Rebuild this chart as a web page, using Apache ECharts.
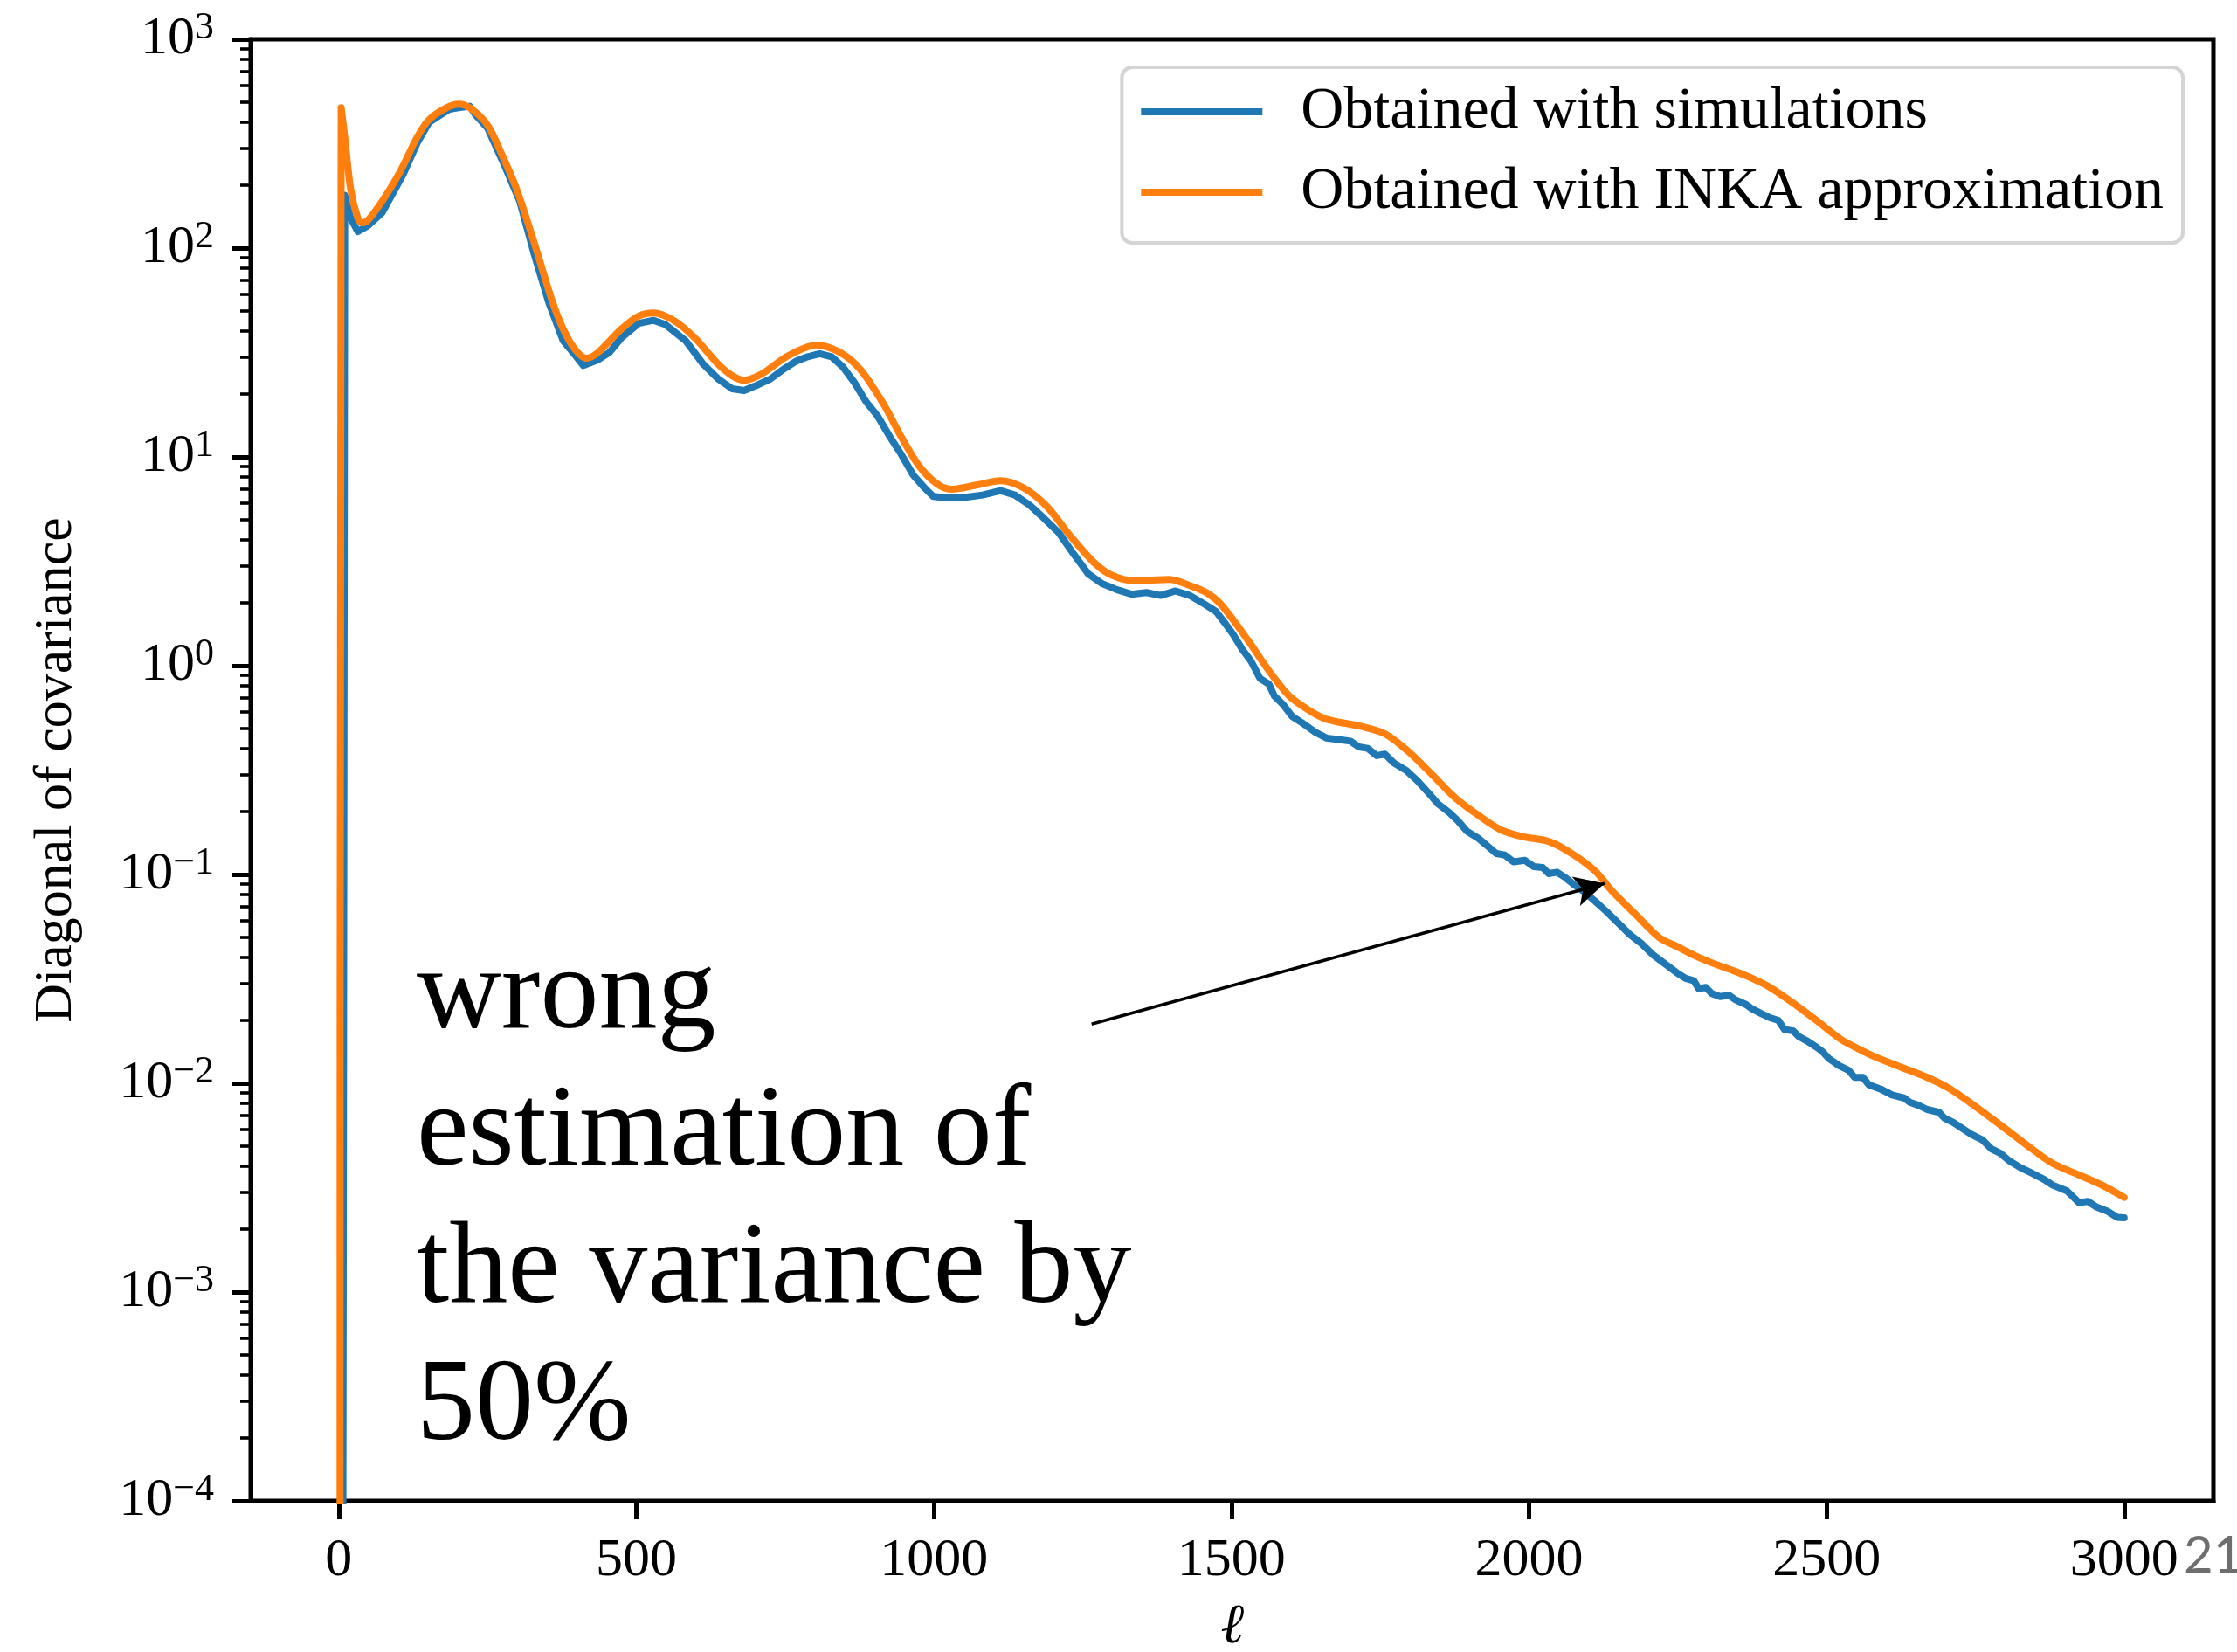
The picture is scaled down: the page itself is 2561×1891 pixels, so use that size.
<!DOCTYPE html>
<html>
<head>
<meta charset="utf-8">
<script src="https://cdn.jsdelivr.net/npm/echarts@6/dist/echarts.min.js"></script>
<style>
  html, body { margin: 0; padding: 0; background: #ffffff; }
  #chart { width: 2561px; height: 1891px; }
</style>
</head>
<body>
<div id="chart"></div>
<script>
// Multipole ell for the simulation-based diagonal
const ellSim = [6, 10, 20, 32, 49, 73, 108, 132, 152, 186, 201, 220, 230, 250, 279, 304, 328, 353, 377, 397,
  411, 436, 455, 475, 504, 529, 549, 583, 612, 637, 661, 681, 705, 725, 749, 769, 788, 808, 828, 847,
  867, 886, 906, 926, 945, 965, 984, 999, 1023, 1053, 1082, 1112, 1136, 1161, 1185, 1210, 1234, 1259, 1283, 1308,
  1332, 1357, 1381, 1406, 1430, 1455, 1474, 1489, 1503, 1518, 1533, 1548, 1563, 1572, 1587, 1602, 1621, 1641, 1660, 1680,
  1700, 1714, 1729, 1744, 1758, 1773, 1793, 1812, 1832, 1847, 1866, 1881, 1896, 1915, 1930, 1945, 1959, 1974, 1993, 2008,
  2023, 2033, 2047, 2062, 2077, 2091, 2111, 2130, 2150, 2170, 2189, 2209, 2248, 2263, 2277, 2285, 2297, 2307, 2321, 2336,
  2346, 2365, 2375, 2390, 2405, 2419, 2429, 2444, 2454, 2468, 2483, 2493, 2503, 2522, 2537, 2547, 2561, 2571, 2591, 2610,
  2630, 2640, 2654, 2669, 2689, 2698, 2713, 2728, 2743, 2762, 2777, 2792, 2806, 2826, 2846, 2865, 2880, 2904, 2924, 2939,
  2954, 2973, 2988, 3000];
// Diagonal of the covariance estimated from simulations
const covSim = [1e-6, 179, 139, 120, 128, 148, 225, 320, 401, 463, 470, 478, 434, 376, 247, 168, 94.4, 54.7, 36, 30.7,
  27.4, 29.2, 31.7, 37.2, 43.6, 45.1, 43, 36, 27.9, 23.7, 21.2, 20.8, 22.2, 23.6, 26.5, 28.8, 30.2, 31.2, 30.2, 27.0,
  22.6, 18.4, 15.6, 12.5, 10.3, 8.2, 7.12, 6.46, 6.36, 6.4, 6.57, 6.89, 6.57, 5.87, 5.08, 4.33, 3.45, 2.76, 2.47, 2.31,
  2.20, 2.24, 2.17, 2.28, 2.17, 1.97, 1.82, 1.60, 1.41, 1.20, 1.05, 0.868, 0.815, 0.716, 0.65, 0.571, 0.527, 0.48, 0.45, 0.443,
  0.435, 0.408, 0.402, 0.371, 0.377, 0.342, 0.316, 0.282, 0.244, 0.218, 0.198, 0.18, 0.161, 0.149, 0.137, 0.126, 0.124, 0.115, 0.117, 0.109,
  0.108, 0.101, 0.1026, 0.0962, 0.0888, 0.0833, 0.0745, 0.0665, 0.0585, 0.0514, 0.0467, 0.0411, 0.0339, 0.0318, 0.0310, 0.0284, 0.0288, 0.0269, 0.0260, 0.0264,
  0.0252, 0.0238, 0.0227, 0.0216, 0.0206, 0.0200, 0.0181, 0.0178, 0.0167, 0.0159, 0.0149, 0.0142, 0.0132, 0.0121, 0.01155, 0.01067, 0.01067, 0.00984, 0.00938, 0.00879,
  0.00851, 0.00811, 0.00785, 0.00749, 0.00726, 0.00681, 0.00649, 0.00608, 0.0057, 0.00535, 0.00485, 0.00462, 0.00427, 0.00394, 0.0037, 0.00347, 0.00325, 0.00305, 0.00268, 0.00272,
  0.00255, 0.00243, 0.00228, 0.00227];

// Multipole ell for the INKA approximation
const ellInka = [2, 4, 10, 20, 32, 39, 49, 73, 103, 132, 152, 181, 201, 220, 250, 274, 299, 328, 358, 377,
  397, 416, 436, 475, 504, 529, 563, 598, 637, 661, 681, 710, 755, 803, 842, 877, 916, 945, 975, 1004,
  1029, 1073, 1112, 1151, 1190, 1229, 1268, 1298, 1337, 1396, 1435, 1460, 1484, 1528, 1562, 1597, 1631, 1660, 1719, 1758,
  1797, 1837, 1876, 1915, 1954, 1993, 2033, 2072, 2111, 2140, 2179, 2219, 2248, 2277, 2312, 2346, 2375, 2405, 2444, 2483,
  2522, 2542, 2576, 2620, 2669, 2708, 2757, 2806, 2845, 2880, 2924, 2963, 3000];
// Diagonal of the covariance from the INKA approximation
const covInka = [1e-6, 470, 341, 191, 139, 132, 136, 168, 232, 341, 413, 470, 489, 470, 388, 281, 191, 107, 56.5, 41,
  32.7, 29.7, 31.7, 41, 47.3, 48.9, 45, 37.2, 27.9, 24.5, 23.3, 24.9, 30.5, 34.3, 31.7, 26.1, 17.8, 12.5, 9.06, 7.47,
  7.0, 7.35, 7.7, 7.1, 5.78, 4.19, 3.14, 2.72, 2.55, 2.59, 2.39, 2.22, 1.94, 1.32, 0.955, 0.716, 0.61, 0.554, 0.511, 0.472,
  0.389, 0.301, 0.233, 0.192, 0.163, 0.151, 0.144, 0.126, 0.104, 0.083, 0.0644, 0.0498, 0.0453, 0.0411, 0.0373, 0.0344, 0.0318, 0.0288, 0.0242, 0.0200,
  0.0164, 0.0152, 0.0136, 0.0121, 0.01067, 0.00938, 0.00749, 0.00589, 0.00485, 0.00413, 0.00364, 0.00325, 0.00284];

const seriesNames = ['Obtained with simulations', 'Obtained with INKA approximation'];
const xTickValues = [0, 500, 1000, 1500, 2000, 2500, 3000];
const yDecades = [-4, -3, -2, -1, 0, 1, 2, 3];
const minorMantissas = [2, 3, 4, 5, 6, 7, 8, 9];
const arrowFrom = [1265, 0.0192];
const arrowTo = [2127, 0.0906];
const noteLines = ['wrong', 'estimation of', 'the variance by', '50%'];
const pageNumber = '21';

const serif = '"Liberation Serif", "DejaVu Serif", serif';
const MINUS = '\u2212';

const yMajor = yDecades.map(e => Math.pow(10, e));
const yMinor = [];
yDecades.slice(0, -1).forEach(e => {
  minorMantissas.forEach(m => yMinor.push(m * Math.pow(10, e)));
});

function zip(xs, ys) { return xs.map((x, i) => [x, ys[i]]); }

function decadeLabel(v) {
  const e = Math.round(Math.log10(v));
  const s = e < 0 ? MINUS + Math.abs(e) : String(e);
  return '{b|10}{s|' + s + '}';
}

const chart = echarts.init(document.getElementById('chart'), null, { renderer: 'canvas' });

const option = {
  animation: false,
  backgroundColor: '#ffffff',
  grid: {
    left: 287, right: 27, top: 45, bottom: 173,
    containLabel: false, outerBoundsMode: 'none',
    show: true, borderColor: '#000', borderWidth: 5, backgroundColor: 'transparent'
  },
  legend: {
    data: seriesNames,
    orient: 'vertical',
    right: 62, top: 77,
    itemWidth: 139, itemHeight: 8, itemGap: 24,
    icon: 'rect',
    selectedMode: false,
    padding: [17, 22, 24, 22],
    borderColor: '#d4d4d4', borderWidth: 4, borderRadius: 12,
    backgroundColor: 'rgba(255,255,255,0.8)',
    textStyle: { fontFamily: serif, fontSize: 68, color: '#000', lineHeight: 64, padding: [0, 0, 0, 39] }
  },
  xAxis: {
    type: 'value', min: -148, max: 3150,
    name: '\u2113', nameLocation: 'middle', nameGap: 113,
    nameTextStyle: { fontFamily: serif, fontSize: 64, color: '#000', fontStyle: 'italic' },
    axisLine: { show: true, onZero: false, lineStyle: { color: '#000', width: 5 } },
    axisTick: { show: true, length: 21, lineStyle: { color: '#000', width: 5 }, customValues: xTickValues },
    axisLabel: {
      customValues: xTickValues, margin: 38, fontFamily: serif, fontSize: 62, color: '#000', lineHeight: 62,
      formatter: v => String(v)
    },
    splitLine: { show: false }
  },
  yAxis: [{
    type: 'log', logBase: 10, min: 1e-4, max: 1e3,
    name: 'Diagonal of covariance', nameLocation: 'middle', nameGap: 191, nameRotate: 90,
    nameTextStyle: { fontFamily: serif, fontSize: 62, color: '#000' },
    axisLine: { show: true, onZero: false, lineStyle: { color: '#000', width: 5 } },
    axisTick: { show: true, length: 21, lineStyle: { color: '#000', width: 5 }, customValues: yMajor },
    axisLabel: {
      customValues: yMajor, margin: 42,
      formatter: decadeLabel,
      rich: {
        b: { fontFamily: serif, fontSize: 62, lineHeight: 62, color: '#000' },
        s: { fontFamily: serif, fontSize: 44, lineHeight: 44, color: '#000', padding: [0, 0, 26, 0] }
      }
    },
    splitLine: { show: false }
  }, {
    // minor decade ticks at 2..9 x 10^k
    type: 'log', logBase: 10, min: 1e-4, max: 1e3, position: 'left', offset: 0,
    axisLine: { show: false, onZero: false },
    axisTick: { show: true, length: 12, lineStyle: { color: '#000', width: 3.6 }, customValues: yMinor },
    axisLabel: { show: false },
    splitLine: { show: false }
  }],
  series: [{
    name: seriesNames[0], type: 'line', yAxisIndex: 0,
    data: zip(ellSim, covSim),
    showSymbol: false, symbol: 'none',
    lineStyle: { color: '#1f77b4', width: 8, join: 'round', cap: 'round' },
    itemStyle: { color: '#1f77b4' },
    emphasis: { disabled: true }, z: 2
  }, {
    name: seriesNames[1], type: 'line', yAxisIndex: 0,
    data: zip(ellInka, covInka),
    showSymbol: false, symbol: 'none',
    smooth: 0.3,
    lineStyle: { color: '#ff7f0e', width: 8, join: 'round', cap: 'round' },
    itemStyle: { color: '#ff7f0e' },
    emphasis: { disabled: true }, z: 3,
    markLine: {
      silent: true,
      symbol: ['none', 'arrow'],
      symbolSize: [26, 34],
      label: { show: false },
      lineStyle: { color: '#000', width: 3.5, type: 'solid' },
      emphasis: { disabled: true },
      data: [[{ coord: arrowFrom }, { coord: arrowTo }]]
    }
  }],
  graphic: [{
    type: 'text', left: 477, top: 1062, z: 10, silent: true,
    style: {
      text: noteLines.join('\n'),
      font: '134px ' + serif,
      fill: '#000',
      lineHeight: 157
    }
  }, {
    type: 'text', left: 2500, top: 1752, z: 10, silent: true,
    style: { text: pageNumber, font: '58px Lato, "Open Sans", sans-serif', fill: '#6e6e6e' }
  }]
};

chart.setOption(option);
</script>
</body>
</html>
